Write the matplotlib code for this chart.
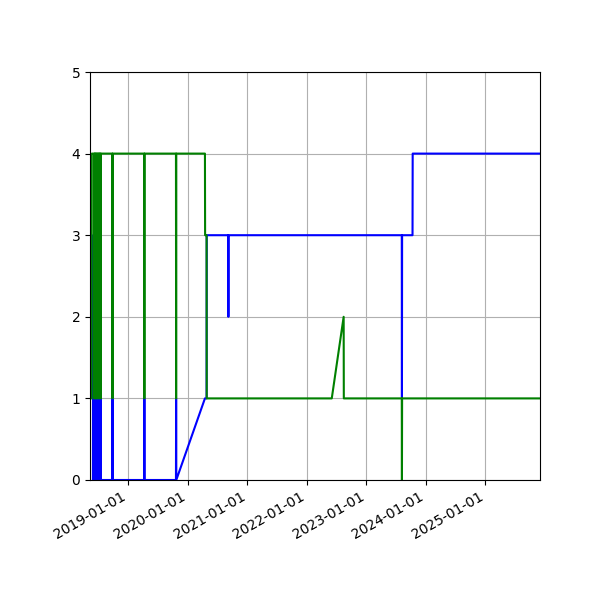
import numpy as np
import pandas as pd
import matplotlib
matplotlib.use('Agg')
import matplotlib.pyplot as plt
import matplotlib.dates as mdates

# blue series (dates, values)
blue_dates = ['2018-05-28', '2018-05-29', '2018-05-30', '2018-06-05', '2018-06-06', '2018-06-07',
              '2018-06-12', '2018-06-13', '2018-06-14', '2018-06-20', '2018-06-21', '2018-06-22',
              '2018-06-28', '2018-06-29', '2018-06-30', '2018-07-06', '2018-07-07', '2018-07-08',
              '2018-07-14', '2018-07-15', '2018-07-16', '2018-09-24', '2018-09-25', '2018-09-26',
              '2019-04-08', '2019-04-09', '2019-04-10', '2019-10-20', '2019-10-21', '2019-10-22',
              '2020-04-15', '2020-04-25', '2020-04-26', '2020-09-05', '2020-09-06', '2020-09-07',
              '2023-08-07', '2023-08-08', '2023-08-09', '2023-10-12', '2023-10-13', '2025-12-31']
blue_vals = [0, 3, 0, 0, 1, 0,
             0, 1, 0, 0, 1, 0,
             0, 1, 0, 0, 1, 0,
             0, 1, 0, 0, 1, 0,
             0, 1, 0, 0, 1, 0,
             1, 1, 3, 3, 2, 3,
             3, 1, 3, 3, 4, 4]

# green series
green_dates = ['2018-05-20', '2018-05-21', '2018-05-22', '2018-06-05', '2018-06-06', '2018-06-07',
               '2018-06-12', '2018-06-13', '2018-06-14', '2018-06-20', '2018-06-21', '2018-06-22',
               '2018-06-28', '2018-06-29', '2018-06-30', '2018-07-06', '2018-07-07', '2018-07-08',
               '2018-07-14', '2018-07-15', '2018-07-16', '2018-09-24', '2018-09-25', '2018-09-26',
               '2019-04-08', '2019-04-09', '2019-04-10', '2019-10-20', '2019-10-21', '2019-10-22',
               '2020-04-15', '2020-04-16', '2020-04-25', '2020-04-26', '2022-06-03', '2022-08-15',
               '2022-08-16', '2023-08-07', '2023-08-08', '2023-08-09', '2025-12-31']
green_vals = [1, 4, 4, 4, 1, 4,
              4, 1, 4, 4, 1, 4,
              4, 1, 4, 4, 1, 4,
              4, 1, 4, 4, 1, 4,
              4, 1, 4, 4, 1, 4,
              4, 3, 3, 1, 1, 2,
              1, 1, 0, 1, 1]

fig, ax = plt.subplots(figsize=(6, 6), dpi=100)
ax.plot(pd.to_datetime(blue_dates), blue_vals, color='blue')
ax.plot(pd.to_datetime(green_dates), green_vals, color='green')
ax.set_ylim(0, 5)
ax.set_xlim(pd.Timestamp('2018-05-10'), pd.Timestamp('2025-12-03'))
ax.xaxis.set_major_locator(mdates.YearLocator())
ax.xaxis.set_major_formatter(mdates.DateFormatter('%Y-%m-%d'))
ax.grid(True)
fig.autofmt_xdate()
fig.subplots_adjust(left=0.15, right=0.9, top=0.88, bottom=0.2)
fig.savefig('out.png')
